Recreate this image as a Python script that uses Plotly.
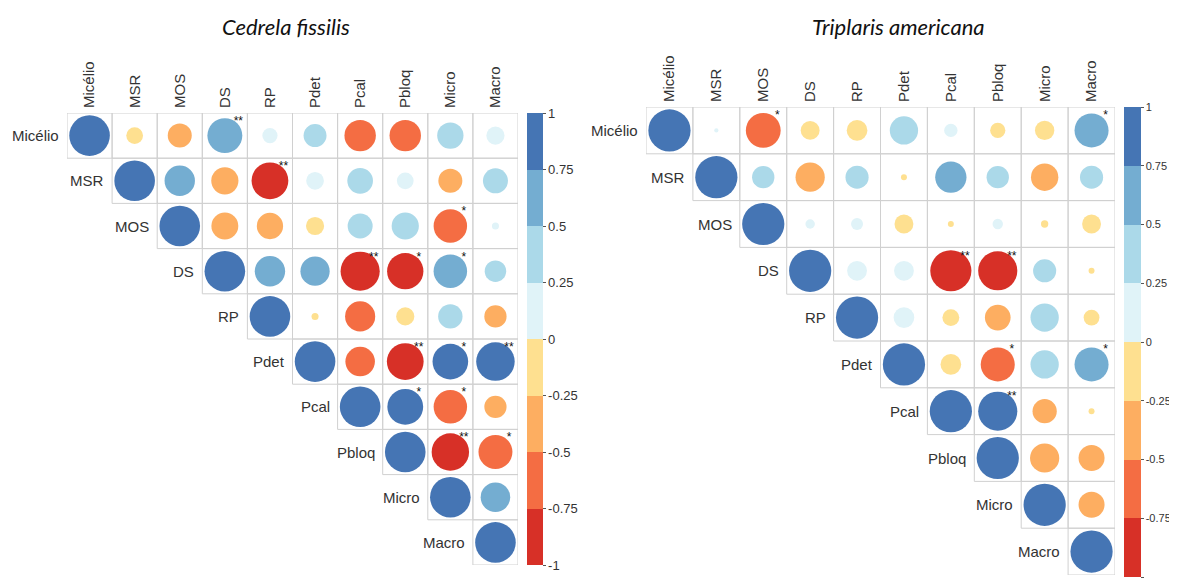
import plotly.graph_objects as go

# ---------------- data ----------------
labels = ["Micélio", "MSR", "MOS", "DS", "RP", "Pdet", "Pcal", "Pbloq", "Micro", "Macro"]

titles = ["Cedrela fissilis", "Triplaris americana"]

# Cedrela fissilis: upper-triangle rows (from diagonal to the right)
cf_micelio = [1, -0.17, -0.35, 0.74, 0.14, 0.32, -0.60, -0.60, 0.42, 0.20]
cf_msr = [1, 0.56, -0.45, -0.82, 0.19, 0.40, 0.17, -0.35, 0.38]
cf_mos = [1, -0.44, -0.42, -0.20, 0.38, 0.45, -0.68, 0.03]
cf_ds = [1, 0.56, 0.52, -0.93, -0.80, 0.68, 0.28]
cf_rp = [1, -0.03, -0.55, -0.20, 0.36, -0.30]
cf_pdet = [1, -0.53, -0.82, 0.77, 0.90]
cf_pcal = [1, 0.78, -0.68, -0.30]
cf_pbloq = [1, -0.85, -0.70]
cf_micro = [1, 0.53]
cf_macro = [1]
cf_rows = [cf_micelio, cf_msr, cf_mos, cf_ds, cf_rp, cf_pdet, cf_pcal, cf_pbloq, cf_micro, cf_macro]

# significance marks (row label, column label, mark)
cf_sig = [("Micélio", "DS", "**"), ("MSR", "RP", "**"), ("MOS", "Micro", "*"),
          ("DS", "Pcal", "**"), ("DS", "Pbloq", "*"), ("DS", "Micro", "*"),
          ("Pdet", "Pbloq", "**"), ("Pdet", "Micro", "*"), ("Pdet", "Macro", "**"),
          ("Pcal", "Pbloq", "*"), ("Pcal", "Micro", "*"),
          ("Pbloq", "Micro", "**"), ("Pbloq", "Macro", "*")]

# Triplaris americana
ta_micelio = [1, 0.01, -0.68, -0.20, -0.24, 0.45, 0.10, -0.13, -0.21, 0.65]
ta_msr = [1, 0.28, -0.48, 0.30, -0.02, 0.55, 0.28, -0.42, 0.30]
ta_mos = [1, 0.05, 0.08, -0.20, -0.02, 0.06, -0.03, -0.20]
ta_ds = [1, 0.22, 0.22, -0.95, -0.86, 0.30, -0.02]
ta_rp = [1, 0.24, -0.16, -0.37, 0.45, -0.14]
ta_pdet = [1, -0.24, -0.65, 0.45, 0.65]
ta_pcal = [1, 0.86, -0.33, -0.02]
ta_pbloq = [1, -0.48, -0.38]
ta_micro = [1, -0.38]
ta_macro = [1]
ta_rows = [ta_micelio, ta_msr, ta_mos, ta_ds, ta_rp, ta_pdet, ta_pcal, ta_pbloq, ta_micro, ta_macro]

ta_sig = [("Micélio", "MOS", "*"), ("Micélio", "Macro", "*"),
          ("DS", "Pcal", "**"), ("DS", "Pbloq", "**"),
          ("Pdet", "Pbloq", "*"), ("Pdet", "Macro", "*"),
          ("Pcal", "Pbloq", "**")]

cbar_ticks = [-1, -0.75, -0.5, -0.25, 0, 0.25, 0.5, 0.75, 1]
bin_colors = ["#D73027", "#F46D43", "#FDAE61", "#FEE090",
              "#E0F3F8", "#ABD9E9", "#74ADD1", "#4575B4"]

# ---------------- layout geometry ----------------
# the page body has an 8px margin, so the figure starts at (8, 8) in the window
OX, OY = 8, 8
W, H = 1177 - OX, 578 - OY


def px(xp):
    return (xp - OX) / W


def py(yp):
    return 1 - (yp - OY) / H


panels = [
    dict(x0=67, x1=518, y0=113, y1=565, cb_x=527, cb_th=16, cb_top=113, cb_len=452,
         tx=286, cb_font=13),
    dict(x0=646, x1=1115, y0=107, y1=575, cb_x=1124, cb_th=17, cb_top=107, cb_len=470,
         tx=898, cb_font=11),
]

# stepwise colourscale
colorscale = []
n = len(bin_colors)
for k, c in enumerate(bin_colors):
    colorscale.append([k / n, c])
    colorscale.append([(k + 1) / n, c])

FONT = "Liberation Sans, Arial, sans-serif"
fig = go.Figure()
idx = {lab: i for i, lab in enumerate(labels)}

for p, (rows, sig, pan) in enumerate([(cf_rows, cf_sig, panels[0]), (ta_rows, ta_sig, panels[1])]):
    sfx = "" if p == 0 else str(p + 1)
    xa, ya = "x" + sfx, "y" + sfx
    cell = (pan["x1"] - pan["x0"]) / len(labels)
    xs, ys, vals = [], [], []
    for i, row in enumerate(rows):
        for k, v in enumerate(row):
            xs.append(i + k)
            ys.append(i)
            vals.append(v)
    sizes = [0.9 * cell * abs(v) ** 0.5 for v in vals]

    # cell borders
    for x, y in zip(xs, ys):
        fig.add_shape(type="rect", xref=xa, yref=ya, x0=x - 0.5, x1=x + 0.5,
                      y0=y - 0.5, y1=y + 0.5, line=dict(color="#D0D0D0", width=1),
                      layer="below")

    fig.add_trace(go.Scatter(
        x=xs, y=ys, mode="markers", xaxis=xa, yaxis=ya, showlegend=False,
        marker=dict(size=sizes, color=vals, cmin=-1, cmax=1, colorscale=colorscale,
                    line=dict(width=0), opacity=1, showscale=True,
                    colorbar=dict(
                        x=px(pan["cb_x"]), xanchor="left", xpad=0,
                        y=py(pan["cb_top"]), yanchor="top", ypad=0,
                        thickness=pan["cb_th"], lenmode="pixels", len=pan["cb_len"],
                        tickvals=cbar_ticks, ticktext=[f"{t:g}" for t in cbar_ticks],
                        ticks="outside", ticklen=3, tickcolor="#555", tickwidth=1,
                        outlinewidth=0,
                        tickfont=dict(family=FONT, size=pan["cb_font"], color="#333"))),
        hoverinfo="skip"))

    # significance marks
    fig.add_trace(go.Scatter(
        x=[idx[c] + 0.3 for r, c, s in sig], y=[idx[r] - 0.3 for r, c, s in sig],
        text=[s for r, c, s in sig], mode="text", xaxis=xa, yaxis=ya,
        textposition="middle center", showlegend=False, hoverinfo="skip",
        textfont=dict(family=FONT, size=12, color="#111")))

    # row labels beside the diagonal
    for i, lab in enumerate(labels):
        fig.add_annotation(x=i - 0.5, y=i, xref=xa, yref=ya, text=lab,
                           showarrow=False, xanchor="right", yanchor="middle",
                           xshift=-6, font=dict(family=FONT, size=15, color="#333"))

    fig.layout["xaxis" + sfx] = dict(
        domain=[px(pan["x0"]), px(pan["x1"])], range=[-0.5, len(labels) - 0.5],
        side="top", anchor=ya, tickmode="array", tickvals=list(range(len(labels))),
        ticktext=labels, tickangle=-90, ticks="", showgrid=False, zeroline=False,
        showline=False, fixedrange=True, ticklabelstandoff=4,
        tickfont=dict(family=FONT, size=15, color="#333"))
    fig.layout["yaxis" + sfx] = dict(
        domain=[py(pan["y1"]), py(pan["y0"])], range=[len(labels) - 0.5, -0.5],
        anchor=xa, showticklabels=False, ticks="", showgrid=False, zeroline=False,
        showline=False, fixedrange=True)

    fig.add_annotation(x=px(pan["tx"]), y=py(27), xref="paper", yref="paper",
                       text=f"<i>{titles[p]}</i>", showarrow=False,
                       xanchor="center", yanchor="middle",
                       font=dict(family="Lato, Carlito, sans-serif", size=22, color="#111"))

fig.update_layout(width=W, height=H, autosize=False,
                  margin=dict(l=0, r=0, t=0, b=0),
                  paper_bgcolor="white", plot_bgcolor="white")

fig.write_html("out.html")
